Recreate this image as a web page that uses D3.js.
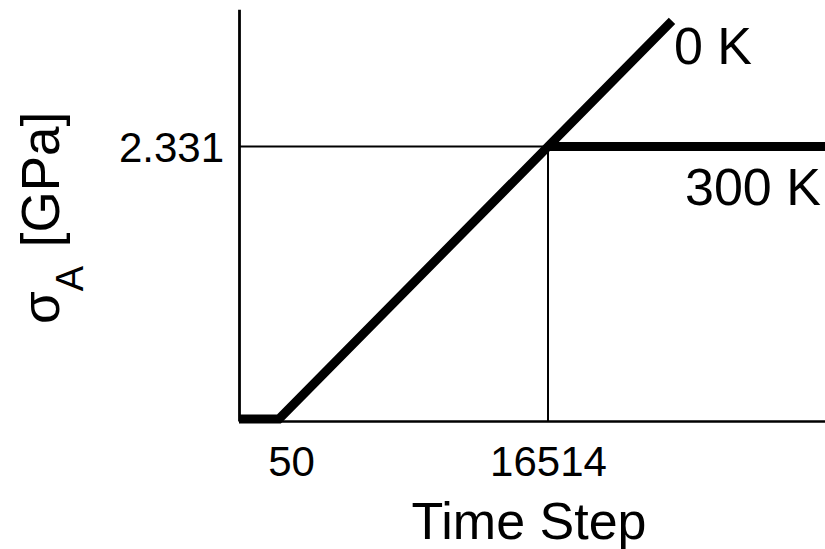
<!DOCTYPE html>
<html>
<head>
<meta charset="utf-8">
<script src="https://cdn.jsdelivr.net/npm/d3@7"></script>
<style>
  html, body { margin: 0; padding: 0; background: #fff; }
  svg { display: block; }
  text { font-family: "Liberation Sans", Arial, Helvetica, sans-serif; fill: #000; }
</style>
</head>
<body>
<svg id="chart" width="825" height="549"></svg>
<script>
// ---- data ----
const xTickValues = [50, 16514];
const xTickLabels = ["50", "16514"];
const yTickValues = [2.331];
const yTickLabels = ["2.331"];

// 0 K series: flat, then linear rise
const zeroKSteps  = [-2398, 50, 24103];
const zeroKStress = [0, 0, 3.4055];
// 300 K series: plateau at yield stress
const k300Steps  = [16514, 33467];
const k300Stress = [2.331, 2.331];

const yieldStep = 16514;
const yieldStress = 2.331;

const seriesLabels = ["0 K", "300 K"];
const xTitle = "Time Step";

// ---- layout ----
const svg = d3.select("#chart");
const x = d3.scaleLinear().domain([-2398, 33467]).range([239, 825]);
const y = d3.scaleLinear().domain([-0.0171, 3.505]).range([421, 9.3]);

// reference lines (thin)
svg.append("line")
  .attr("x1", x.range()[0]).attr("x2", x(yieldStep))
  .attr("y1", y(yieldStress)).attr("y2", y(yieldStress))
  .attr("stroke", "#000").attr("stroke-width", 2);
svg.append("line")
  .attr("x1", x(yieldStep)).attr("x2", x(yieldStep))
  .attr("y1", y(yieldStress)).attr("y2", y.range()[0])
  .attr("stroke", "#000").attr("stroke-width", 2);

const line = d3.line().x(d => x(d[0])).y(d => y(d[1]));

svg.append("path")
  .datum(zeroKSteps.map((s, i) => [s, zeroKStress[i]]))
  .attr("d", line)
  .attr("fill", "none").attr("stroke", "#000")
  .attr("stroke-width", 9).attr("stroke-linejoin", "miter");

svg.append("path")
  .datum(k300Steps.map((s, i) => [s, k300Stress[i]]))
  .attr("d", line)
  .attr("fill", "none").attr("stroke", "#000")
  .attr("stroke-width", 9);

// axes
const xAxis = d3.axisBottom(x)
  .tickValues(xTickValues)
  .tickFormat((d, i) => xTickLabels[i])
  .tickSize(0).tickSizeOuter(0).tickPadding(25);
const gx = svg.append("g").attr("transform", `translate(0,${y.range()[0]})`).call(xAxis);
gx.select(".domain").attr("stroke", "#000").attr("stroke-width", 2.7);
gx.selectAll(".tick text").attr("font-size", 42)
  .attr("font-family", '"Liberation Sans", Arial, sans-serif')
  .attr("dx", (d, i) => i === 0 ? 12 : 0);

const yAxis = d3.axisLeft(y)
  .tickValues(yTickValues)
  .tickFormat((d, i) => yTickLabels[i])
  .tickSize(0).tickSizeOuter(0).tickPadding(15);
const gy = svg.append("g").attr("transform", `translate(${x.range()[0]},0)`).call(yAxis);
gy.select(".domain").attr("stroke", "#000").attr("stroke-width", 2.8);
gy.selectAll(".tick text").attr("font-size", 42)
  .attr("font-family", '"Liberation Sans", Arial, sans-serif')
  .attr("dy", "0.36em");

// series labels
svg.append("text").attr("x", 674).attr("y", 64)
  .attr("font-size", 52).text(seriesLabels[0]);
svg.append("text").attr("x", 685).attr("y", 205)
  .attr("font-size", 52).text(seriesLabels[1]);

// x title
svg.append("text").attr("x", 529).attr("y", 539)
  .attr("text-anchor", "middle").attr("font-size", 52).text(xTitle);

// y title: σ_A [GPa]
const yt = svg.append("text")
  .attr("transform", "translate(59,324) rotate(-90)")
  .attr("font-size", 53);
yt.append("tspan").text("σ");
yt.append("tspan").attr("font-size", 38).attr("dy", 24).text("A");
yt.append("tspan").attr("dy", -24).attr("dx", 4).text(" [GPa]");
</script>
</body>
</html>
